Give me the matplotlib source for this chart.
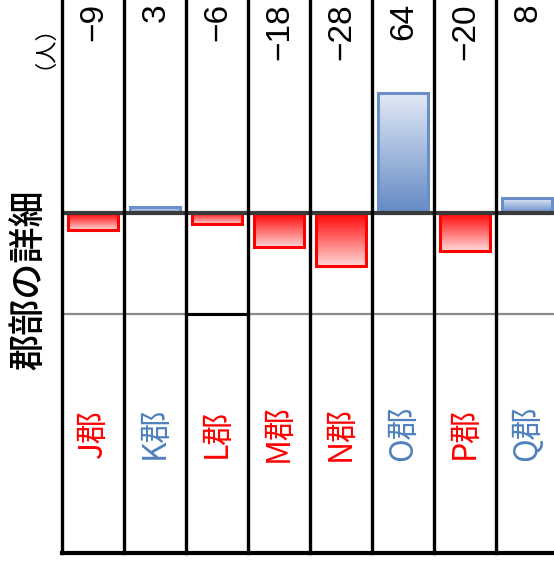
import numpy as np
import matplotlib
matplotlib.use("Agg")
import matplotlib.pyplot as plt
from matplotlib.colors import LinearSegmentedColormap

# Data
categories = ["J郡", "K郡", "L郡", "M郡", "N郡", "O郡", "P郡", "Q郡"]
values = [-9, 3, -6, -18, -28, 64, -20, 8]
value_labels = ["\u22129", "3", "\u22126", "\u221218", "\u221228", "64", "\u221220", "8"]
title = "郡部の詳細"
unit = "（人）"

RED = "#FF0000"
BLUE = "#6A8FC8"
BLUE_TXT = "#4F81BD"

red_cmap = LinearSegmentedColormap.from_list("r", ["#FFD4D4", "#FF0000"])
blue_cmap = LinearSegmentedColormap.from_list("b", ["#E2EAF4", "#6389C6"])

W, H = 554, 564
fig = plt.figure(figsize=(W / 100, H / 100), dpi=100)
fig.patch.set_facecolor("white")

# axes area in pixels: x 62..558, y 0..553 from top
ax = fig.add_axes([62 / W, (H - 553) / H, 496 / W, 553 / H])
px_per_unit = 1.875
zero_px = 213
ytop = zero_px / px_per_unit
ybot = -(553 - zero_px) / px_per_unit

bar_w = 0.82
grad = np.linspace(0, 1, 256).reshape(-1, 1)
for i, v in enumerate(values):
    x0 = i - bar_w / 2
    if v < 0:
        # saturated at zero, lighter going down
        ax.imshow(grad, cmap=red_cmap, extent=(x0, x0 + bar_w, v, 0),
                  origin="lower", aspect="auto", zorder=2)
        ax.bar(i, v, width=bar_w, facecolor="none", edgecolor=RED,
               linewidth=2.2, zorder=3)
    else:
        ax.imshow(grad[::-1], cmap=blue_cmap, extent=(x0, x0 + bar_w, 0, v),
                  origin="lower", aspect="auto", zorder=2)
        ax.bar(i, v, width=bar_w, facecolor="none", edgecolor=BLUE,
               linewidth=2.2, zorder=3)

ax.set_xlim(-0.5, 7.5)
ax.set_ylim(ybot, ytop)
ax.axis("off")

# zero line
ax.axhline(0, color="#3a3a3a", linewidth=3, zorder=4)

# gray horizontal rule, black over column L
yrule = (553 - 314) / 553
ax.plot([-0.5, 7.5], [yrule, yrule], color="#8a8a8a", linewidth=1.6,
        transform=ax.get_xaxis_transform(), clip_on=False, zorder=1)
ax.plot([1.5, 2.5], [yrule, yrule], color="black", linewidth=2.2,
        transform=ax.get_xaxis_transform(), clip_on=False, zorder=1)

# column separators
for xs in np.arange(-0.5, 7.0, 1.0):
    ax.plot([xs, xs], [0, 1], color="black", linewidth=2.4,
            transform=ax.get_xaxis_transform(), clip_on=False, zorder=5)
ax.plot([-0.5, 7.5], [0, 0], color="black", linewidth=3,
        transform=ax.get_xaxis_transform(), clip_on=False, zorder=5)

# value labels at top
for i, lab in enumerate(value_labels):
    ax.text(i + 0.02, 1 - 3 / 553, lab, rotation=90, ha="center", va="top",
            fontsize=24, color="black", family=["Liberation Sans", "DejaVu Sans"],
            transform=ax.get_xaxis_transform(), zorder=6)

# category labels
for i, (cat, v) in enumerate(zip(categories, values)):
    ax.text(i, (553 - 433) / 553, cat, rotation=90, ha="center", va="center",
            fontsize=23, color=RED if v < 0 else BLUE_TXT,
            family=["Noto Sans CJK JP"],
            transform=ax.get_xaxis_transform(), zorder=6)

# left side texts
fig.text(29 / W, 1 - 280 / H, title, rotation=90, ha="center", va="center",
         fontsize=26, fontweight="medium", family=["Noto Sans CJK JP"])
fig.text(33 / W, 1 - 36 / H, unit, rotation=90, ha="center", va="center",
         fontsize=16, family=["Noto Sans CJK JP"])

fig.savefig("out.png", dpi=100, facecolor="white")
